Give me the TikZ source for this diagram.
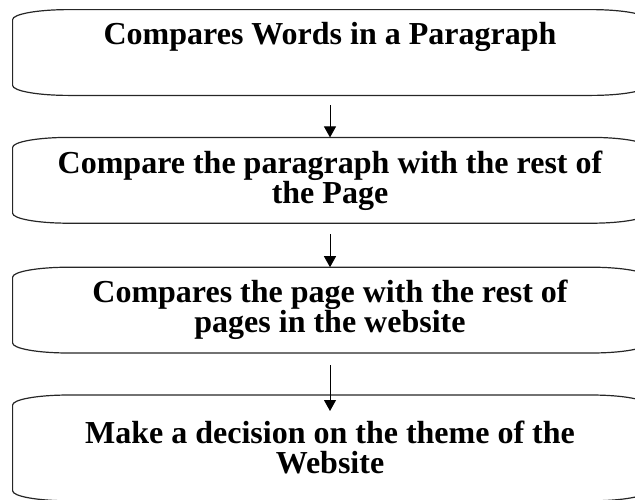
\documentclass[tikz,border=0pt]{standalone}
\usepackage{fontspec}
\setmainfont{Liberation Serif}
\usetikzlibrary{positioning,arrows.meta}
\tikzset{
  stage/.style={rectangle, minimum width=317pt, minimum height=42.5pt, inner sep=0pt,
    align=center, font=\fontsize{16}{15}\selectfont\bfseries},
  rim/.style={line width=0.6pt, draw=black!85},
  flow/.style={line width=0.5pt, -{Triangle[width=6pt,length=5.5pt]}}
}
\newcommand{\stagerim}[1]{%
  \draw[rim] ([xshift=28pt]#1.north west) -- ([xshift=-28pt]#1.north east)
    arc[start angle=90,end angle=0,x radius=28pt,y radius=5pt]
    -- ([yshift=5pt]#1.south east)
    arc[start angle=0,end angle=-90,x radius=28pt,y radius=5pt]
    -- ([xshift=28pt]#1.south west)
    arc[start angle=270,end angle=180,x radius=28pt,y radius=5pt]
    -- ([yshift=-5pt]#1.north west)
    arc[start angle=180,end angle=90,x radius=28pt,y radius=5pt] -- cycle;}
\begin{document}
\begin{tikzpicture}
    \useasboundingbox (0,0) rectangle (317.5pt,-249.5pt);
    \node[stage] (words) at (165pt,-26.25pt) {Compares Words in a Paragraph\\ \strut};
    \node[stage, below=21pt of words] (para) {Compare the paragraph with the rest of\\the Page};
    \node[stage, below=22pt of para] (pages) {Compares the page with the rest of\\pages in the website};
    \node[stage, below=21pt of pages, minimum height=52.5pt] (theme) {Make a decision on the theme of the\\Website};
    \foreach \n in {words,para,pages,theme} {\stagerim{\n}}
    \draw[flow] ([yshift=-5pt]words.south) -- (para.north);
    \draw[flow] ([yshift=-5.5pt]para.south) -- (pages.north);
    \draw[flow] ([yshift=-6pt]pages.south) -- ([yshift=-8pt]theme.north);
\end{tikzpicture}
\end{document}
